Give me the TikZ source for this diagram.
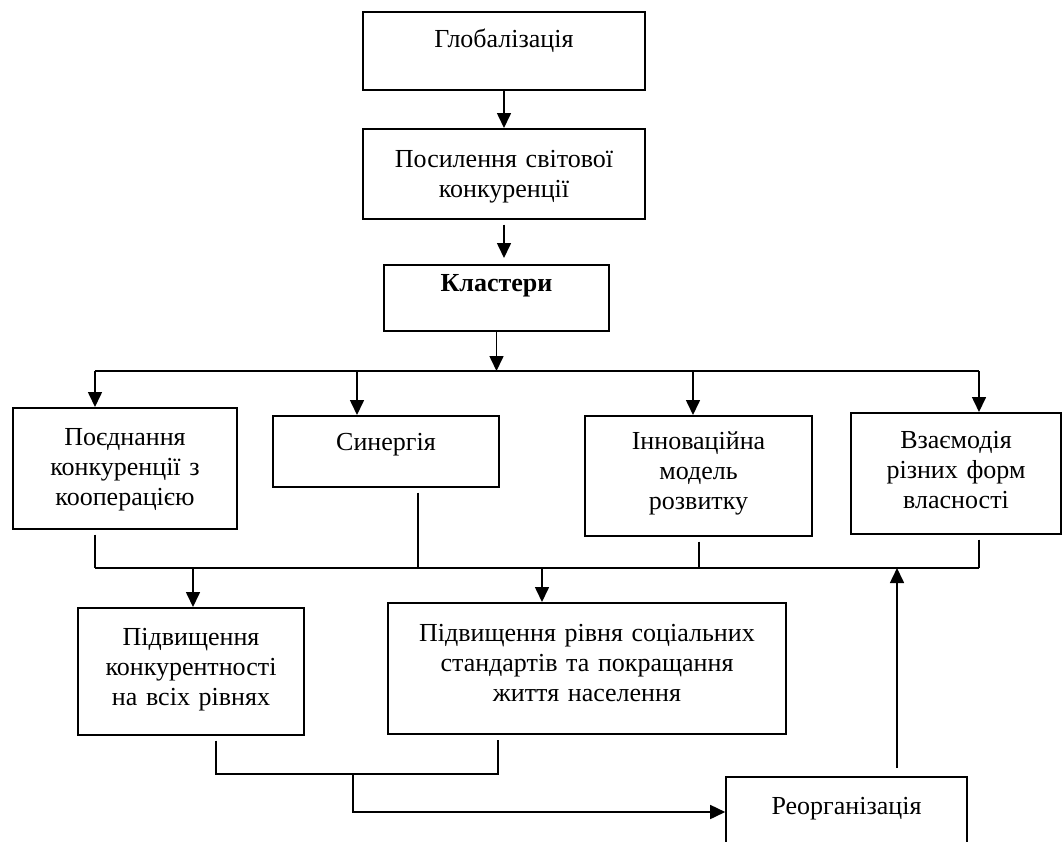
\documentclass[tikz,border=0pt]{standalone}
\usepackage{fontspec}
\setmainfont{Liberation Serif}
\usetikzlibrary{arrows.meta}

\begin{document}
\begin{tikzpicture}[x=0.5pt, y=-0.5pt, line width=0.8pt,
  box/.style={draw, anchor=north, inner sep=0pt, align=center,
    font=\fontsize{13}{14.8}\selectfont},
  arr/.style={-{Triangle[length=7.5pt,width=7pt]}}]
\useasboundingbox (0,0) rectangle (1064,841);
\clip (0,0) rectangle (1064,841);
% top boxes
\node[box, text width=141pt, text height=18pt, text depth=21pt] (glob) at (504,11) {Глобалізація};
\node[box, text width=141pt, text height=19.5pt, text depth=25.5pt] (post) at (504,128) {Посилення світової\\конкуренції};
\node[box, text width=112.5pt, text height=13.5pt, text depth=19.5pt] (klast) at (496.5,264) {\textbf{Кластери}};
% second row
\node[box, text width=112pt, text height=19pt, text depth=41.5pt] (poed) at (125,407) {Поєднання\\конкуренції з\\кооперацією};
\node[box, text width=113pt, text height=17.5pt, text depth=18pt] (syn) at (386,415) {Синергія};
\node[box, text width=113.5pt, text height=17pt, text depth=43pt] (innov) at (698.5,415) {Інноваційна\\модель\\розвитку};
\node[box, text width=105pt, text height=18pt, text depth=42.5pt] (vzaem) at (956,412) {Взаємодія\\різних форм\\власності};
% third row
\node[box, text width=113pt, text height=19pt, text depth=44.5pt] (pidv) at (191,607) {Підвищення\\конкурентності\\на всіх рівнях};
\node[box, text width=199pt, text height=19.5pt, text depth=46pt] (soc) at (587,602) {Підвищення рівня соціальних\\стандартів та покращання\\життя населення};
\node[box, text width=120.5pt, text height=19pt, text depth=33pt] (reorg) at (846.5,776) {Реорганізація};
% bus points
\coordinate (t1) at (95,371);
\coordinate (t2) at (357,371);
\coordinate (t4) at (693,371);
\coordinate (t5) at (979,371);
\coordinate (b1) at (95,568);
\coordinate (b2) at (418,568);
\coordinate (b3) at (699,568);
\coordinate (b4) at (979,568);
\coordinate (d1) at (193,568);
\coordinate (d2) at (542,568);
\coordinate (u1) at (897,568);
\coordinate (c1) at (216,774);
\coordinate (c2) at (498,774);
\coordinate (c3) at (353,774);
\coordinate (c4) at (353,812);
% top chain
\draw[arr] (glob.south) -- (post.north);
\draw[arr] ([yshift=-2.5pt]post.south) -- ([yshift=3pt]post.south |- klast.north);
\draw[arr] (klast.south) -- (klast.south |- t1);
\draw (t1) -- (t5);
\foreach \c/\n in {t1/poed, t2/syn, t4/innov, t5/vzaem}
  \draw[arr] (\c) -- (\c |- \n.north);
% lower bus
\draw (b1) -- (b4);
\foreach \c/\n in {b1/poed, b2/syn, b3/innov, b4/vzaem}
  \draw ([yshift=-2.5pt]\c |- \n.south) -- (\c);
\draw[arr] (d1) -- (d1 |- pidv.north);
\draw[arr] (d2) -- (d2 |- soc.north);
\draw[arr] ([yshift=4pt]u1 |- reorg.north) -- (u1);
% bottom
\draw ([yshift=-2.5pt]c1 |- pidv.south) -- (c1) -- (c2) -- ([yshift=-2.5pt]c2 |- soc.south);
\draw[arr] (c3) -- (c4) -- (c4 -| reorg.west);
\end{tikzpicture}
\end{document}
